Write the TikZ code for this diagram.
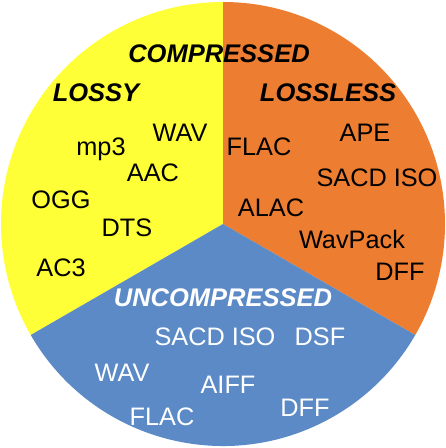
\documentclass[tikz,border=0pt]{standalone}
\usepackage{fontspec}
\setmainfont{Liberation Sans}
\definecolor{lossyyellow}{RGB}{255,255,56}
\definecolor{losslessorange}{RGB}{237,125,49}
\definecolor{uncompblue}{RGB}{91,138,198}
\tikzset{
  fmt/.style={anchor=base,font=\fontsize{25.3}{29}\selectfont},
  head/.style={anchor=base,font=\fontsize{25.5}{29}\selectfont\bfseries\itshape},
}
\begin{document}
\begin{tikzpicture}[x=1pt,y=-1pt,line join=round,line cap=round]
	\useasboundingbox (0,0) rectangle (446,448);
	\coordinate (c) at (223,224);
	\fill[lossyyellow] (c)--++(90:-222) arc[start angle=-90,end angle=-210,radius=222]--cycle;
	\fill[losslessorange] (c)--++(90:-222) arc[start angle=-90,end angle=30,radius=222]--cycle;
	\fill[uncompblue] (c)--++(-30:-222) arc[start angle=150,end angle=30,radius=222]--cycle;
	\path
	(219,62.3) node[head] (compressed) {COMPRESSED}
	(96,101.7) node[head] (lossy) {LOSSY}
	(328,101.7) node[head] (lossless) {LOSSLESS}
	(223,306) node[head,white] (uncompressed) {UNCOMPRESSED}
	;
	\path
	(180,141.7) node[fmt] (wavy) {WAV}
	(101,155) node[fmt] (mpthree) {mp3}
	(153,181.7) node[fmt] (aac) {AAC}
	(61,208.3) node[fmt] (ogg) {OGG}
	(127,236.7) node[fmt] (dts) {DTS}
	(61,276.7) node[fmt] (acthree) {AC3}
	;
	\path
	(259,155) node[fmt] (flaco) {FLAC}
	(365,141.7) node[fmt] (ape) {APE}
	(377,186.7) node[fmt] (sacdo) {SACD ISO}
	(271,216) node[fmt] (alac) {ALAC}
	(352,248.3) node[fmt] (wavpack) {WavPack}
	(400,280) node[fmt] (dffo) {DFF}
	;
	\path[white]
	(215,345.7) node[fmt] (sacdb) {SACD ISO}
	(320,345.7) node[fmt] (dsf) {DSF}
	(122,381.7) node[fmt] (wavb) {WAV}
	(228,393.3) node[fmt] (aiff) {AIFF}
	(162,425) node[fmt] (flacb) {FLAC}
	(305,416.7) node[fmt] (dffb) {DFF}
	;
\end{tikzpicture}
\end{document}
